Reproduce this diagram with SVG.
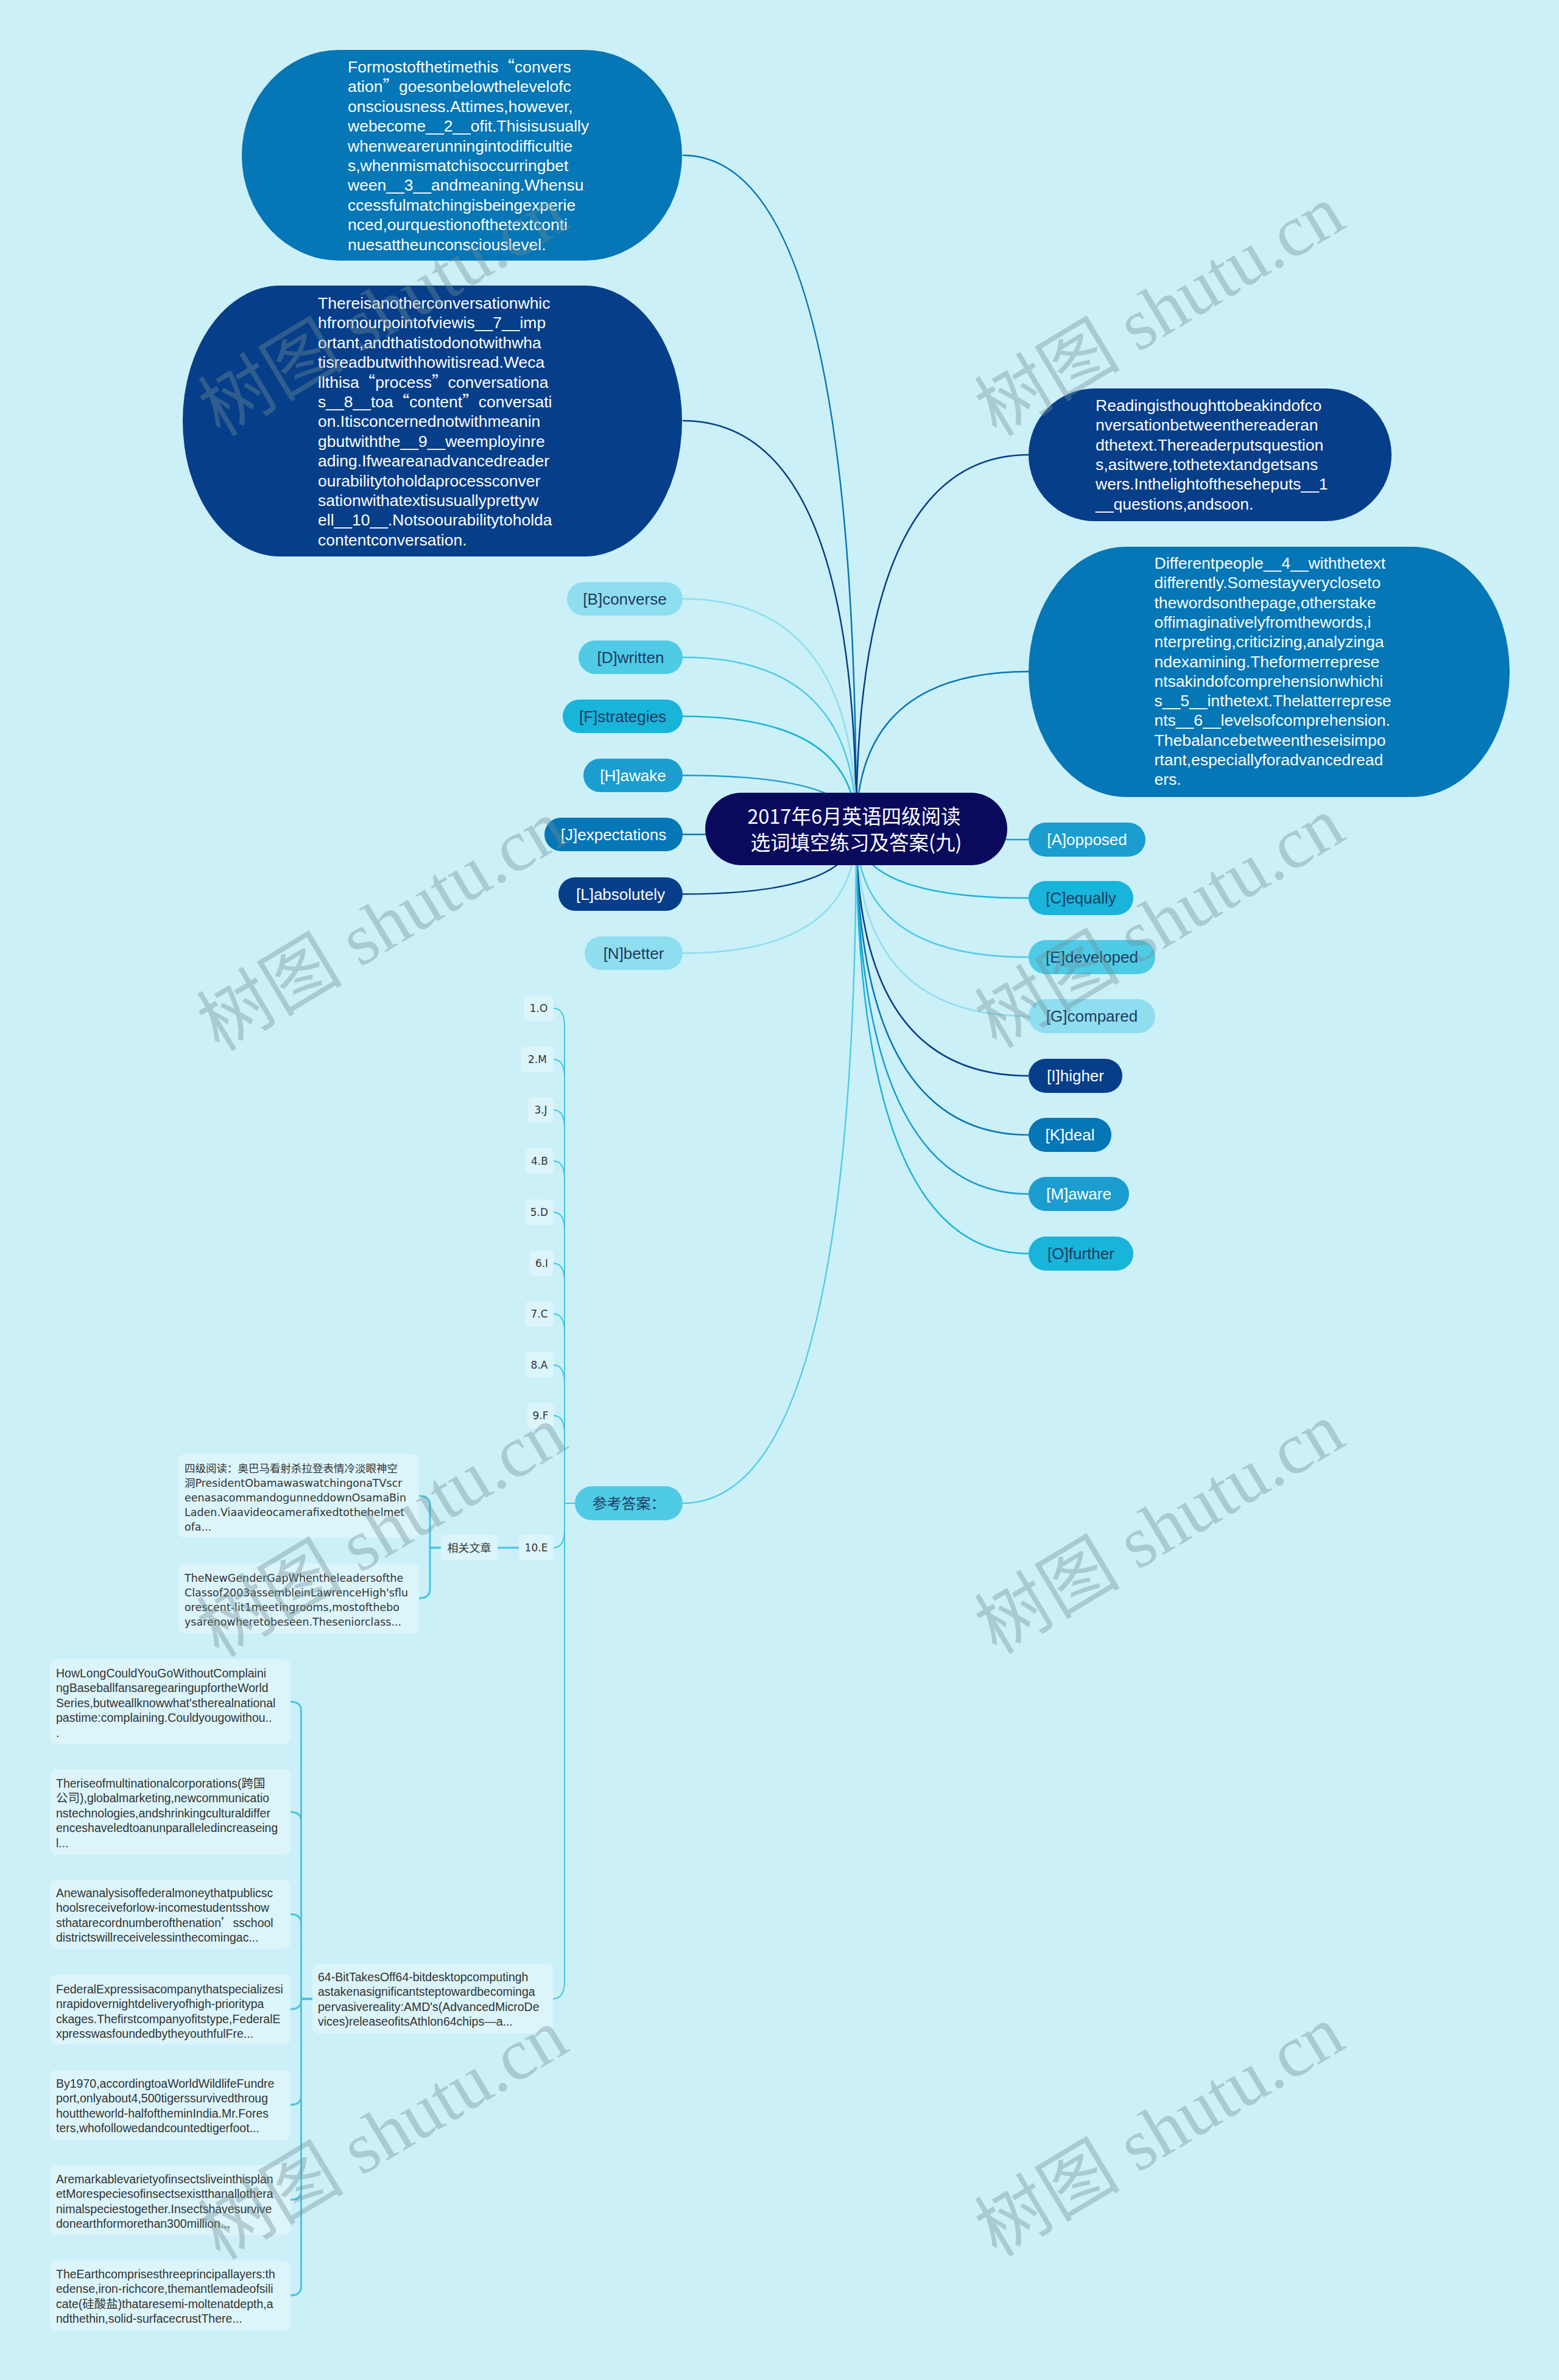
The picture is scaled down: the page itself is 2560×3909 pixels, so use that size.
<svg xmlns="http://www.w3.org/2000/svg" width="2560" height="3909" viewBox="0 0 2560 3909">
<style>
.bub{font-family:"Liberation Sans","Noto Sans CJK SC",sans-serif;font-size:26.5px;fill:#ffffff}
.q{font-family:"Noto Sans CJK SC",sans-serif}
.nt{font-family:"Liberation Sans","Noto Sans CJK SC",sans-serif;font-size:26px;text-anchor:middle}
.dk{fill:#1f3a5f}
.wt{fill:#ffffff}
.ans{font-family:"DejaVu Sans","Noto Sans CJK SC",sans-serif;font-size:17px;fill:#333333;text-anchor:middle}
.art1{font-family:"DejaVu Sans","Noto Sans CJK SC",sans-serif;font-size:17.5px;fill:#333333}
.art2{font-family:"Liberation Sans","Noto Sans CJK SC",sans-serif;font-size:19.5px;fill:#333333}
.box{fill:#dbf5fa}
.p0{fill:#063e8a}.p1{fill:#0576b6}.p2{fill:#1b9dd0}.p3{fill:#18b4d9}.p4{fill:#4fcbe6}.p5{fill:#8fdef0}
.c{fill:none;stroke-width:2.5}
.s0{stroke:#063e8a}.s1{stroke:#0576b6}.s2{stroke:#1b9dd0}.s3{stroke:#18b4d9}.s4{stroke:#4fcbe6}.s5{stroke:#8fdef0}
.sa{fill:none;stroke:#45c6e2;stroke-width:2}
.sb{fill:none;stroke:#45c6e2;stroke-width:3}
.wm{font-family:"Liberation Serif","Noto Sans CJK SC",serif;font-size:120px;fill:#6f8f96;opacity:0.38;text-anchor:middle}
</style>
<rect x="0" y="0" width="2560" height="3909" fill="#ccf0f8"/>

<g id="connectors">
<path class="c s1" d="M1406 1361 Q1406 255 1121 255"/>
<path class="c s0" d="M1406 1361 Q1406 691 1121 691"/>
<path class="c s0" d="M1406 1361 Q1406 747 1689 747"/>
<path class="c s1" d="M1406 1361 Q1406 1103 1689 1103"/>
<path class="c s5" d="M1406 1361 Q1406 983.5 1121 983.5"/>
<path class="c s4" d="M1406 1361 Q1406 1079.5 1121 1079.5"/>
<path class="c s3" d="M1406 1361 Q1406 1176.5 1121 1176.5"/>
<path class="c s2" d="M1406 1361 Q1406 1273.5 1121 1273.5"/>
<path class="c s1" d="M1406 1361 Q1406 1370.5 1121 1370.5"/>
<path class="c s0" d="M1406 1361 Q1406 1468.5 1121 1468.5"/>
<path class="c s5" d="M1406 1361 Q1406 1565.5 1121 1565.5"/>
<path class="c s2" d="M1406 1361 Q1406 1379 1689 1379"/>
<path class="c s3" d="M1406 1361 Q1406 1475 1689 1475"/>
<path class="c s4" d="M1406 1361 Q1406 1572 1689 1572"/>
<path class="c s5" d="M1406 1361 Q1406 1669 1689 1669"/>
<path class="c s0" d="M1406 1361 Q1406 1767 1689 1767"/>
<path class="c s1" d="M1406 1361 Q1406 1864 1689 1864"/>
<path class="c s2" d="M1406 1361 Q1406 1961 1689 1961"/>
<path class="c s3" d="M1406 1361 Q1406 2059 1689 2059"/>
<path class="c s4" d="M1406 1361 Q1406 2469 1121 2469"/>
<path class="sa" d="M944 2469 H927 V1686 Q927 1656 909 1656"/>
<path class="sa" d="M944 2469 H927 V1770 Q927 1740 909 1740"/>
<path class="sa" d="M944 2469 H927 V1853 Q927 1823 909 1823"/>
<path class="sa" d="M944 2469 H927 V1937 Q927 1907 909 1907"/>
<path class="sa" d="M944 2469 H927 V2021 Q927 1991 909 1991"/>
<path class="sa" d="M944 2469 H927 V2105 Q927 2075 909 2075"/>
<path class="sa" d="M944 2469 H927 V2188 Q927 2158 909 2158"/>
<path class="sa" d="M944 2469 H927 V2272 Q927 2242 909 2242"/>
<path class="sa" d="M944 2469 H927 V2355 Q927 2325 909 2325"/>
<path class="sa" d="M944 2469 H927 V2512 Q927 2542 909 2542"/>
<path class="sa" d="M944 2469 H927 V3253 Q927 3283 908 3283"/>
<path class="sb" d="M852 2542 H817"/>
<path class="sb" d="M724 2542 H706 V2472 Q706 2457 688 2457"/>
<path class="sb" d="M724 2542 H706 V2610 Q706 2625 688 2625"/>
<path class="sb" d="M513 3283 H494.5 V2810 Q494.5 2795 477 2795"/>
<path class="sb" d="M513 3283 H494.5 V2991 Q494.5 2976 477 2976"/>
<path class="sb" d="M513 3283 H494.5 V3159 Q494.5 3144 477 3144"/>
<path class="sb" d="M513 3283 H494.5 V3285 Q494.5 3300 477 3300"/>
<path class="sb" d="M513 3283 H494.5 V3442 Q494.5 3457 477 3457"/>
<path class="sb" d="M513 3283 H494.5 V3598 Q494.5 3613 477 3613"/>
<path class="sb" d="M513 3283 H494.5 V3755 Q494.5 3770 477 3770"/>
</g>

<g id="bubble-a">
<rect class="p1" x="397" y="82" width="723" height="346" rx="160" ry="173"/>
<text class="bub" x="571">
<tspan x="571" y="119">Formostofthetimethis<tspan class="q">“</tspan>convers</tspan>
<tspan x="571" y="151.4">ation<tspan class="q">”</tspan>goesonbelowthelevelofc</tspan>
<tspan x="571" y="183.8">onsciousness.Attimes,however,</tspan>
<tspan x="571" y="216.2">webecome__2__ofit.Thisisusually</tspan>
<tspan x="571" y="248.6">whenwearerunningintodifficultie</tspan>
<tspan x="571" y="281">s,whenmismatchisoccurringbet</tspan>
<tspan x="571" y="313.4">ween__3__andmeaning.Whensu</tspan>
<tspan x="571" y="345.8">ccessfulmatchingisbeingexperie</tspan>
<tspan x="571" y="378.2">nced,ourquestionofthetextconti</tspan>
<tspan x="571" y="410.6">nuesattheunconsciouslevel.</tspan>
</text>
</g>

<g id="bubble-b">
<rect class="p0" x="300" y="469" width="820" height="445" rx="160" ry="222.5"/>
<text class="bub">
<tspan x="522" y="507">Thereisanotherconversationwhic</tspan>
<tspan x="522" y="539.4">hfromourpointofviewis__7__imp</tspan>
<tspan x="522" y="571.8">ortant,andthatistodonotwithwha</tspan>
<tspan x="522" y="604.2">tisreadbutwithhowitisread.Weca</tspan>
<tspan x="522" y="636.6">llthisa<tspan class="q">“</tspan>process<tspan class="q">”</tspan>conversationa</tspan>
<tspan x="522" y="669">s__8__toa<tspan class="q">“</tspan>content<tspan class="q">”</tspan>conversati</tspan>
<tspan x="522" y="701.4">on.Itisconcernednotwithmeanin</tspan>
<tspan x="522" y="733.8">gbutwiththe__9__weemployinre</tspan>
<tspan x="522" y="766.2">ading.Ifweareanadvancedreader</tspan>
<tspan x="522" y="798.6">ourabilitytoholdaprocessconver</tspan>
<tspan x="522" y="831">sationwithatextisusuallyprettyw</tspan>
<tspan x="522" y="863.4">ell__10__.Notsoourabilitytoholda</tspan>
<tspan x="522" y="895.8">contentconversation.</tspan>
</text>
</g>

<g id="bubble-c">
<rect class="p0" x="1689" y="638" width="596" height="218" rx="109" ry="109"/>
<text class="bub">
<tspan x="1799" y="675">Readingisthoughttobeakindofco</tspan>
<tspan x="1799" y="707.3">nversationbetweenthereaderan</tspan>
<tspan x="1799" y="739.6">dthetext.Thereaderputsquestion</tspan>
<tspan x="1799" y="771.9">s,asitwere,tothetextandgetsans</tspan>
<tspan x="1799" y="804.2">wers.Inthelightoftheseheputs__1</tspan>
<tspan x="1799" y="836.5">__questions,andsoon.</tspan>
</text>
</g>

<g id="bubble-d">
<rect class="p1" x="1689" y="898" width="790" height="411" rx="160" ry="205.5"/>
<text class="bub">
<tspan x="1895.5" y="934">Differentpeople__4__withthetext</tspan>
<tspan x="1895.5" y="966.3">differently.Somestayverycloseto</tspan>
<tspan x="1895.5" y="998.6">thewordsonthepage,otherstake</tspan>
<tspan x="1895.5" y="1030.9">offimaginativelyfromthewords,i</tspan>
<tspan x="1895.5" y="1063.2">nterpreting,criticizing,analyzinga</tspan>
<tspan x="1895.5" y="1095.5">ndexamining.Theformerreprese</tspan>
<tspan x="1895.5" y="1127.8">ntsakindofcomprehensionwhichi</tspan>
<tspan x="1895.5" y="1160.1">s__5__inthetext.Thelatterreprese</tspan>
<tspan x="1895.5" y="1192.4">nts__6__levelsofcomprehension.</tspan>
<tspan x="1895.5" y="1224.7">Thebalancebetweentheseisimpo</tspan>
<tspan x="1895.5" y="1257">rtant,especiallyforadvancedread</tspan>
<tspan x="1895.5" y="1289.3">ers.</tspan>
</text>
</g>

<g id="root">
<rect x="1158" y="1302" width="496" height="119" rx="59.5" fill="#0a0a5c"/>
<text font-family="Noto Sans CJK SC, sans-serif" font-size="32.5" fill="#ffffff" text-anchor="middle">
<tspan x="1406" y="1353">2017年6月英语四级阅读</tspan>
<tspan x="1406" y="1396">选词填空练习及答案(九)</tspan>
</text>
</g>

<g id="n-B"><rect class="p5" x="931" y="956" width="190" height="55" rx="27.5"/><text class="nt dk" x="1026" y="992.5">[B]converse</text></g>
<g id="n-D"><rect class="p4" x="950" y="1052" width="171" height="55" rx="27.5"/><text class="nt dk" x="1035.5" y="1088.5">[D]written</text></g>
<g id="n-F"><rect class="p3" x="924" y="1149" width="197" height="55" rx="27.5"/><text class="nt dk" x="1022.5" y="1185.5">[F]strategies</text></g>
<g id="n-H"><rect class="p2" x="958" y="1246" width="163" height="55" rx="27.5"/><text class="nt wt" x="1039.5" y="1282.5">[H]awake</text></g>
<g id="n-J"><rect class="p1" x="894" y="1343" width="227" height="55" rx="27.5"/><text class="nt wt" x="1007.5" y="1379.5">[J]expectations</text></g>
<g id="n-L"><rect class="p0" x="917" y="1441" width="204" height="55" rx="27.5"/><text class="nt wt" x="1019" y="1477.5">[L]absolutely</text></g>
<g id="n-N"><rect class="p5" x="960" y="1538" width="161" height="55" rx="27.5"/><text class="nt dk" x="1040.5" y="1574.5">[N]better</text></g>

<g id="n-A"><rect class="p2" x="1689" y="1351" width="192" height="56" rx="28"/><text class="nt wt" x="1785" y="1388">[A]opposed</text></g>
<g id="n-C"><rect class="p3" x="1689" y="1447" width="172" height="56" rx="28"/><text class="nt dk" x="1775" y="1484">[C]equally</text></g>
<g id="n-E"><rect class="p4" x="1689" y="1544" width="208" height="56" rx="28"/><text class="nt dk" x="1793" y="1581">[E]developed</text></g>
<g id="n-G"><rect class="p5" x="1689" y="1641" width="208" height="56" rx="28"/><text class="nt dk" x="1793" y="1678">[G]compared</text></g>
<g id="n-I"><rect class="p0" x="1689" y="1739" width="154" height="56" rx="28"/><text class="nt wt" x="1766" y="1776">[I]higher</text></g>
<g id="n-K"><rect class="p1" x="1689" y="1836" width="136" height="56" rx="28"/><text class="nt wt" x="1757" y="1873">[K]deal</text></g>
<g id="n-M"><rect class="p2" x="1689" y="1933" width="165" height="56" rx="28"/><text class="nt wt" x="1771.5" y="1970">[M]aware</text></g>
<g id="n-O"><rect class="p3" x="1689" y="2031" width="172" height="56" rx="28"/><text class="nt dk" x="1775" y="2068">[O]further</text></g>

<g id="n-answers"><rect class="p4" x="944" y="2441" width="177" height="56" rx="28"/><text font-family="Noto Sans CJK SC, sans-serif" font-size="24" fill="#1f3a5f" text-anchor="middle" x="1032.5" y="2477.5">参考答案：</text></g>

<g id="a1"><rect class="box" x="860" y="1635" width="49" height="42" rx="7"/><text class="ans" x="884.5" y="1662">1.O</text></g>
<g id="a2"><rect class="box" x="856" y="1719" width="53" height="42" rx="7"/><text class="ans" x="882.5" y="1746">2.M</text></g>
<g id="a3"><rect class="box" x="867" y="1802" width="42" height="42" rx="7"/><text class="ans" x="888" y="1829">3.J</text></g>
<g id="a4"><rect class="box" x="863" y="1886" width="46" height="42" rx="7"/><text class="ans" x="886" y="1913">4.B</text></g>
<g id="a5"><rect class="box" x="862" y="1970" width="47" height="42" rx="7"/><text class="ans" x="885.5" y="1997">5.D</text></g>
<g id="a6"><rect class="box" x="870" y="2054" width="39" height="42" rx="7"/><text class="ans" x="889.5" y="2081">6.I</text></g>
<g id="a7"><rect class="box" x="862" y="2137" width="47" height="42" rx="7"/><text class="ans" x="885.5" y="2164">7.C</text></g>
<g id="a8"><rect class="box" x="862" y="2221" width="47" height="42" rx="7"/><text class="ans" x="885.5" y="2248">8.A</text></g>
<g id="a9"><rect class="box" x="866" y="2304" width="43" height="42" rx="7"/><text class="ans" x="887.5" y="2331">9.F</text></g>
<g id="a10"><rect class="box" x="852" y="2521" width="57" height="42" rx="7"/><text class="ans" x="880.5" y="2548">10.E</text></g>

<g id="related"><rect class="box" x="724" y="2521" width="93" height="42" rx="7"/><text font-family="Noto Sans CJK SC, sans-serif" font-size="18" fill="#333333" text-anchor="middle" x="770.5" y="2548.5">相关文章</text></g>

<g id="art-obama">
<rect class="box" x="293" y="2388" width="395" height="138" rx="10"/>
<text class="art1">
<tspan x="303" y="2417.5">四级阅读：奥巴马看射杀拉登表情冷淡眼神空</tspan>
<tspan x="303" y="2441.5">洞PresidentObamawaswatchingonaTVscr</tspan>
<tspan x="303" y="2465.5">eenasacommandogunneddownOsamaBin</tspan>
<tspan x="303" y="2489.5">Laden.Viaavideocamerafixedtothehelmet</tspan>
<tspan x="303" y="2513.5">ofa...</tspan>
</text>
</g>

<g id="art-gender">
<rect class="box" x="293" y="2568" width="395" height="115" rx="10"/>
<text class="art1">
<tspan x="303" y="2597.5">TheNewGenderGapWhentheleadersofthe</tspan>
<tspan x="303" y="2621.5">Classof2003assembleinLawrenceHigh'sflu</tspan>
<tspan x="303" y="2645.5">orescent-lit1meetingrooms,mostofthebo</tspan>
<tspan x="303" y="2669.5">ysarenowheretobeseen.Theseniorclass...</tspan>
</text>
</g>

<g id="art-64bit">
<rect class="box" x="513" y="3226" width="395" height="114" rx="10"/>
<text class="art2">
<tspan x="522" y="3254">64-BitTakesOff64-bitdesktopcomputingh</tspan>
<tspan x="522" y="3278.4">astakenasignificantsteptowardbecominga</tspan>
<tspan x="522" y="3302.8">pervasivereality:AMD's(AdvancedMicroDe</tspan>
<tspan x="522" y="3327.2">vices)releaseofitsAthlon64chips—a...</tspan>
</text>
</g>

<g id="art-howlong">
<rect class="box" x="82" y="2725" width="395" height="139" rx="10"/>
<text class="art2">
<tspan x="92" y="2755">HowLongCouldYouGoWithoutComplaini</tspan>
<tspan x="92" y="2779.4">ngBaseballfansaregearingupfortheWorld</tspan>
<tspan x="92" y="2803.8">Series,butweallknowwhat'stherealnational</tspan>
<tspan x="92" y="2828.2">pastime:complaining.Couldyougowithou..</tspan>
<tspan x="92" y="2852.6">.</tspan>
</text>
</g>

<g id="art-rise">
<rect class="box" x="82" y="2906" width="395" height="140" rx="10"/>
<text class="art2">
<tspan x="92" y="2936">Theriseofmultinationalcorporations(跨国</tspan>
<tspan x="92" y="2960.4">公司),globalmarketing,newcommunicatio</tspan>
<tspan x="92" y="2984.8">nstechnologies,andshrinkingculturaldiffer</tspan>
<tspan x="92" y="3009.2">enceshaveledtoanunparalleledincreaseing</tspan>
<tspan x="92" y="3033.6">l...</tspan>
</text>
</g>

<g id="art-analysis">
<rect class="box" x="82" y="3087" width="395" height="114" rx="10"/>
<text class="art2">
<tspan x="92" y="3116">Anewanalysisoffederalmoneythatpublicsc</tspan>
<tspan x="92" y="3140.4">hoolsreceiveforlow-incomestudentsshow</tspan>
<tspan x="92" y="3164.8">sthatarecordnumberofthenation<tspan class="q">’</tspan>sschool</tspan>
<tspan x="92" y="3189.2">districtswillreceivelessinthecomingac...</tspan>
</text>
</g>

<g id="art-fedex">
<rect class="box" x="82" y="3243" width="395" height="115" rx="10"/>
<text class="art2">
<tspan x="92" y="3274">FederalExpressisacompanythatspecializesi</tspan>
<tspan x="92" y="3298.4">nrapidovernightdeliveryofhigh-prioritypa</tspan>
<tspan x="92" y="3322.8">ckages.Thefirstcompanyofitstype,FederalE</tspan>
<tspan x="92" y="3347.2">xpresswasfoundedbytheyouthfulFre...</tspan>
</text>
</g>

<g id="art-tigers">
<rect class="box" x="82" y="3400" width="395" height="115" rx="10"/>
<text class="art2">
<tspan x="92" y="3429">By1970,accordingtoaWorldWildlifeFundre</tspan>
<tspan x="92" y="3453.4">port,onlyabout4,500tigerssurvivedthroug</tspan>
<tspan x="92" y="3477.8">houttheworld-halfoftheminIndia.Mr.Fores</tspan>
<tspan x="92" y="3502.2">ters,whofollowedandcountedtigerfoot...</tspan>
</text>
</g>

<g id="art-insects">
<rect class="box" x="82" y="3556" width="395" height="115" rx="10"/>
<text class="art2">
<tspan x="92" y="3586">Aremarkablevarietyofinsectsliveinthisplan</tspan>
<tspan x="92" y="3610.4">etMorespeciesofinsectsexistthanallothera</tspan>
<tspan x="92" y="3634.8">nimalspeciestogether.Insectshavesurvive</tspan>
<tspan x="92" y="3659.2">donearthformorethan300million...</tspan>
</text>
</g>

<g id="art-earth">
<rect class="box" x="82" y="3713" width="395" height="115" rx="10"/>
<text class="art2">
<tspan x="92" y="3742">TheEarthcomprisesthreeprincipallayers:th</tspan>
<tspan x="92" y="3766.4">edense,iron-richcore,themantlemadeofsili</tspan>
<tspan x="92" y="3790.8">cate(硅酸盐)thataresemi-moltenatdepth,a</tspan>
<tspan x="92" y="3815.2">ndthethin,solid-surfacecrustThere...</tspan>
</text>
</g>

<g id="watermarks">
<text class="wm" transform="translate(650 545) rotate(-31)">树图 shutu.cn</text>
<text class="wm" transform="translate(1925 545) rotate(-31)">树图 shutu.cn</text>
<text class="wm" transform="translate(648 1555) rotate(-31)">树图 shutu.cn</text>
<text class="wm" transform="translate(1925 1550) rotate(-31)">树图 shutu.cn</text>
<text class="wm" transform="translate(648 2550) rotate(-31)">树图 shutu.cn</text>
<text class="wm" transform="translate(1925 2545) rotate(-31)">树图 shutu.cn</text>
<text class="wm" transform="translate(650 3540) rotate(-31)">树图 shutu.cn</text>
<text class="wm" transform="translate(1925 3535) rotate(-31)">树图 shutu.cn</text>
</g>
</svg>
